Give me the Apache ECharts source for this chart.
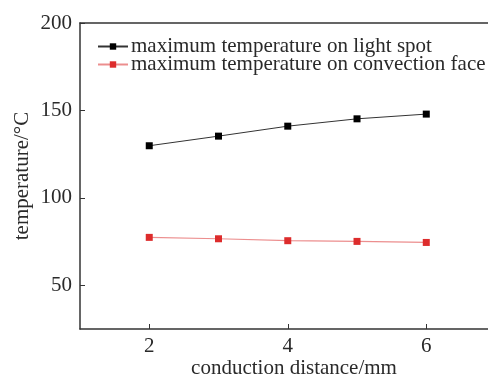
<!DOCTYPE html>
<html><head><meta charset="utf-8">
<script src="https://cdn.jsdelivr.net/npm/echarts@6/dist/echarts.min.js"></script>
<style>html,body{margin:0;padding:0;background:#fff;overflow:hidden}#c{width:488px;height:377px}</style>
</head><body><div id="c"></div>
<script>
const distances = [2, 3, 4, 5, 6];
const lightSpot = [129.8, 135.3, 141.0, 145.2, 147.9];
const convectionFace = [77.4, 76.6, 75.5, 75.1, 74.5];
const xTicks = [2, 4, 6];
const yTicks = [50, 100, 150, 200];
const seriesNames = ['maximum temperature on light spot', 'maximum temperature on convection face'];

const font = 'Liberation Serif, Times New Roman, serif';
const fs = 21;
const txt = '#2a2a2a';
const chart = echarts.init(document.getElementById('c'));
chart.setOption({
  animation: false,
  legend: {
    orient: 'vertical', left: 92, top: 31, itemGap: -3, itemWidth: 30, itemHeight: 8,
    textStyle: { fontFamily: font, fontSize: fs, color: txt, padding: [0,0,0,-2] },
    data: seriesNames
  },
  grid: { left: 80, top: 23, right: -20, bottom: 48, outerBoundsMode: 'none', containLabel: false, show: false },
  xAxis: [{
    type: 'value', min: 1, max: 7.18, name: 'conduction distance/mm', nameLocation: 'middle', nameGap: 29,
    nameMoveOverlap: false,
    nameTextStyle: { fontFamily: font, fontSize: fs, color: txt },
    axisLine: { show: true, onZero: false, lineStyle: { color: '#333', width: 1.5 } },
    axisTick: { show: true, inside: true, length: 5, customValues: xTicks, lineStyle: { color: '#333' } },
    axisLabel: { customValues: xTicks, fontFamily: font, fontSize: fs, color: txt, margin: 7 },
    splitLine: { show: false }
  }, {
    type: 'value', position: 'top', min: 1, max: 7.18,
    axisLine: { show: true, onZero: false, lineStyle: { color: '#333', width: 1.5 } },
    axisTick: { show: false }, axisLabel: { show: false }, splitLine: { show: false }
  }],
  yAxis: {
    type: 'value', min: 25, max: 200, name: 'temperature/°C', nameLocation: 'middle', nameGap: 47,
    nameMoveOverlap: false,
    nameTextStyle: { fontFamily: font, fontSize: fs, color: txt },
    axisLine: { show: true, onZero: false, lineStyle: { color: '#333', width: 1.5 } },
    axisTick: { show: true, inside: true, length: 5, customValues: yTicks, lineStyle: { color: '#333' } },
    axisLabel: { customValues: yTicks, fontFamily: font, fontSize: fs, color: txt, margin: 8 },
    splitLine: { show: false }
  },
  series: [
    { name: seriesNames[0], type: 'line', xAxisIndex: 0, data: distances.map((d, i) => [d, lightSpot[i]]),
      symbol: 'rect', symbolSize: 7, itemStyle: { color: '#000' },
      lineStyle: { color: '#333', width: 1 } },
    { name: seriesNames[1], type: 'line', xAxisIndex: 0, data: distances.map((d, i) => [d, convectionFace[i]]),
      symbol: 'rect', symbolSize: 7, itemStyle: { color: '#dd2c2c' },
      lineStyle: { color: '#ec8e8e', width: 1.2 } }
  ]
});
</script></body></html>
